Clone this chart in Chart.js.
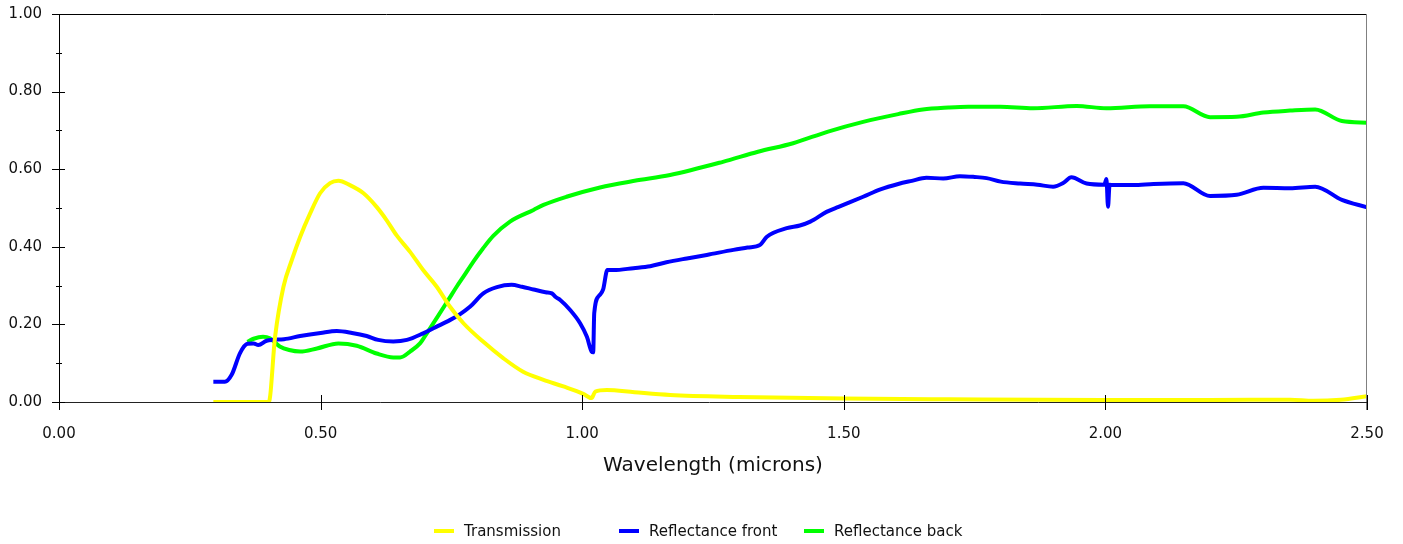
<!DOCTYPE html>
<html>
<head>
<meta charset="utf-8">
<script src="https://cdn.jsdelivr.net/npm/chart.js@4.4.1/dist/chart.umd.min.js"></script>
<style>
  html, body { margin: 0; padding: 0; background: #fff; }
  canvas { display: block; }
</style>
</head>
<body>
<canvas id="chart" width="1403" height="544"></canvas>
<script>
// wavelength (microns) / value pairs
var transWl  = [0.295, 0.401, 0.413, 0.429, 0.445, 0.461, 0.480, 0.499, 0.518, 0.534, 0.556, 0.582, 0.607, 0.626, 0.645, 0.671, 0.696, 0.722, 0.747, 0.773, 0.811, 0.849, 0.887, 0.926, 0.964, 1.002, 1.018, 1.025, 1.047, 1.100, 1.168, 1.300, 1.500, 1.700, 2.000, 2.200, 2.353, 2.397, 2.450, 2.500];
var transVal = [0.000, 0.000, 0.168, 0.297, 0.366, 0.426, 0.486, 0.538, 0.564, 0.570, 0.559, 0.538, 0.503, 0.469, 0.430, 0.387, 0.340, 0.297, 0.246, 0.203, 0.155, 0.113, 0.078, 0.057, 0.040, 0.021, 0.010, 0.027, 0.031, 0.025, 0.018, 0.013, 0.009, 0.007, 0.005, 0.005, 0.006, 0.003, 0.006, 0.015];

var frontWl  = [0.295, 0.317, 0.330, 0.346, 0.360, 0.372, 0.381, 0.397, 0.430, 0.461, 0.500, 0.531, 0.560, 0.588, 0.610, 0.639, 0.665, 0.696, 0.720, 0.747, 0.766, 0.786, 0.811, 0.837, 0.865, 0.885, 0.907, 0.930, 0.942, 0.950, 0.958, 0.977, 0.996, 1.009, 1.018, 1.021, 1.023, 1.033, 1.040, 1.048, 1.060, 1.098, 1.130, 1.161, 1.200, 1.238, 1.289, 1.316, 1.340, 1.353, 1.391, 1.416, 1.436, 1.467, 1.490, 1.512, 1.537, 1.570, 1.604, 1.630, 1.658, 1.690, 1.722, 1.750, 1.773, 1.800, 1.837, 1.870, 1.900, 1.920, 1.935, 1.964, 1.998, 2.002, 2.005, 2.008, 2.015, 2.053, 2.092, 2.149, 2.200, 2.251, 2.302, 2.353, 2.401, 2.452, 2.500];
var frontVal = [0.052, 0.052, 0.070, 0.126, 0.150, 0.151, 0.147, 0.158, 0.162, 0.170, 0.178, 0.183, 0.178, 0.170, 0.160, 0.156, 0.160, 0.177, 0.193, 0.211, 0.226, 0.246, 0.280, 0.296, 0.302, 0.297, 0.290, 0.283, 0.280, 0.270, 0.263, 0.237, 0.203, 0.168, 0.130, 0.128, 0.229, 0.275, 0.290, 0.340, 0.340, 0.345, 0.350, 0.360, 0.370, 0.379, 0.392, 0.398, 0.405, 0.426, 0.448, 0.455, 0.465, 0.490, 0.503, 0.515, 0.529, 0.548, 0.562, 0.570, 0.578, 0.576, 0.582, 0.580, 0.577, 0.568, 0.563, 0.560, 0.555, 0.565, 0.579, 0.563, 0.560, 0.575, 0.503, 0.560, 0.559, 0.559, 0.562, 0.564, 0.531, 0.534, 0.552, 0.551, 0.555, 0.521, 0.502];

var backWl  = [0.360, 0.372, 0.390, 0.403, 0.422, 0.440, 0.461, 0.493, 0.534, 0.569, 0.607, 0.639, 0.652, 0.671, 0.690, 0.703, 0.728, 0.745, 0.760, 0.773, 0.792, 0.810, 0.830, 0.862, 0.907, 0.926, 0.970, 1.034, 1.100, 1.168, 1.269, 1.336, 1.403, 1.470, 1.537, 1.604, 1.651, 1.700, 1.738, 1.799, 1.862, 1.945, 2.002, 2.085, 2.149, 2.200, 2.251, 2.302, 2.353, 2.401, 2.452, 2.500];
var backVal = [0.155, 0.163, 0.168, 0.164, 0.143, 0.134, 0.130, 0.138, 0.151, 0.145, 0.125, 0.115, 0.115, 0.130, 0.151, 0.177, 0.229, 0.265, 0.297, 0.323, 0.362, 0.395, 0.428, 0.465, 0.495, 0.508, 0.529, 0.553, 0.570, 0.585, 0.619, 0.645, 0.667, 0.697, 0.722, 0.742, 0.754, 0.759, 0.761, 0.761, 0.757, 0.763, 0.757, 0.762, 0.762, 0.734, 0.735, 0.746, 0.751, 0.754, 0.724, 0.720];

var seriesNames  = ["Transmission", "Reflectance front", "Reflectance back"];
var seriesColors = ["#ffff00", "#0000ff", "#00ff00"];
var xTitle = "Wavelength (microns)";

var FONT = "DejaVu Sans";

function toPoints(xs, ys) {
    var pts = [];
    for (var i = 0; i < xs.length; i++) {
        pts.push({ x: xs[i], y: ys[i] });
    }
    return pts;
}

// frame, crossing tick marks, axis title and legend
var framePlugin = {
    id: "frame",
    afterDraw: function(chart) {
        var ctx = chart.ctx;
        var area = chart.chartArea;
        var xs = chart.scales.x, ys = chart.scales.y;
        ctx.save();
        ctx.lineWidth = 1;

        // top & left in black, right gray, bottom dark
        ctx.strokeStyle = "#000";
        ctx.beginPath();
        ctx.moveTo(area.left + 0.5, area.bottom);
        ctx.lineTo(area.left + 0.5, area.top + 0.5);
        ctx.lineTo(area.right, area.top + 0.5);
        ctx.stroke();
        ctx.strokeStyle = "#808080";
        ctx.beginPath();
        ctx.moveTo(area.right - 0.5, area.top);
        ctx.lineTo(area.right - 0.5, area.bottom + 8);
        ctx.stroke();
        ctx.strokeStyle = "#222";
        ctx.beginPath();
        ctx.moveTo(area.left - 7, Math.round(area.bottom) + 0.5);
        ctx.lineTo(area.right, Math.round(area.bottom) + 0.5);
        ctx.stroke();

        // y ticks: major every 0.2, minor every 0.1
        ctx.strokeStyle = "#000";
        for (var v = 0; v <= 10; v++) {
            var py = Math.round(ys.getPixelForValue(v / 10)) + 0.5;
            ctx.beginPath();
            if (v % 2 === 0) {
                ctx.moveTo(area.left - 7, py);
                ctx.lineTo(area.left + 6, py);
            } else {
                ctx.moveTo(area.left - 3, py);
                ctx.lineTo(area.left + 3, py);
            }
            ctx.stroke();
        }
        // x ticks
        for (var t = 0; t <= 5; t++) {
            var px = Math.round(xs.getPixelForValue(t * 0.5)) + 0.5;
            ctx.beginPath();
            ctx.moveTo(px, area.bottom - 7);
            ctx.lineTo(px, area.bottom + 8);
            ctx.stroke();
        }

        // axis title
        ctx.fillStyle = "#111";
        ctx.font = "20px '" + FONT + "'";
        ctx.textAlign = "center";
        ctx.textBaseline = "middle";
        ctx.fillText(xTitle, (area.left + area.right) / 2, 466);

        // legend
        var legendX = [434, 619, 804];
        ctx.font = "15px '" + FONT + "'";
        ctx.textAlign = "left";
        for (var i = 0; i < seriesNames.length; i++) {
            ctx.strokeStyle = seriesColors[i];
            ctx.lineWidth = 4;
            ctx.beginPath();
            ctx.moveTo(legendX[i], 531);
            ctx.lineTo(legendX[i] + 20, 531);
            ctx.stroke();
            ctx.fillStyle = "#111";
            ctx.fillText(seriesNames[i], legendX[i] + 30, 532);
        }
        ctx.restore();
    }
};

var datasets = [
    toPoints(transWl, transVal),
    toPoints(frontWl, frontVal),
    toPoints(backWl, backVal)
].map(function(pts, i) {
    return {
        label: seriesNames[i],
        data: pts,
        borderColor: seriesColors[i],
        backgroundColor: seriesColors[i],
        borderWidth: 4,
        pointRadius: 0,
        showLine: true,
        fill: false,
        cubicInterpolationMode: "monotone"
    };
});

var chart = new Chart(document.getElementById("chart").getContext("2d"), {
    type: "scatter",
    data: { datasets: datasets },
    options: {
        responsive: false,
        animation: false,
        devicePixelRatio: 1,
        layout: { padding: { top: 14, right: 36, bottom: 0, left: 0 } },
        plugins: {
            legend: { display: false },
            tooltip: { enabled: false }
        },
        scales: {
            x: {
                type: "linear",
                min: 0,
                max: 2.5,
                grid: { display: false },
                border: { display: false },
                ticks: {
                    stepSize: 0.5,
                    padding: 15,
                    color: "#111",
                    font: { family: FONT, size: 15 },
                    maxRotation: 0,
                    callback: function(v) { return Number(v).toFixed(2); }
                },
                afterFit: function(s) { s.height = 142; }
            },
            y: {
                min: 0,
                max: 1,
                grid: { display: false, tickLength: 12 },
                border: { display: false },
                ticks: {
                    stepSize: 0.2,
                    padding: 5,
                    color: "#111",
                    font: { family: FONT, size: 15 },
                    callback: function(v) { return Number(v).toFixed(2); }
                },
                afterFit: function(s) { s.width = 59; }
            }
        }
    },
    plugins: [framePlugin]
});
</script>
</body>
</html>
